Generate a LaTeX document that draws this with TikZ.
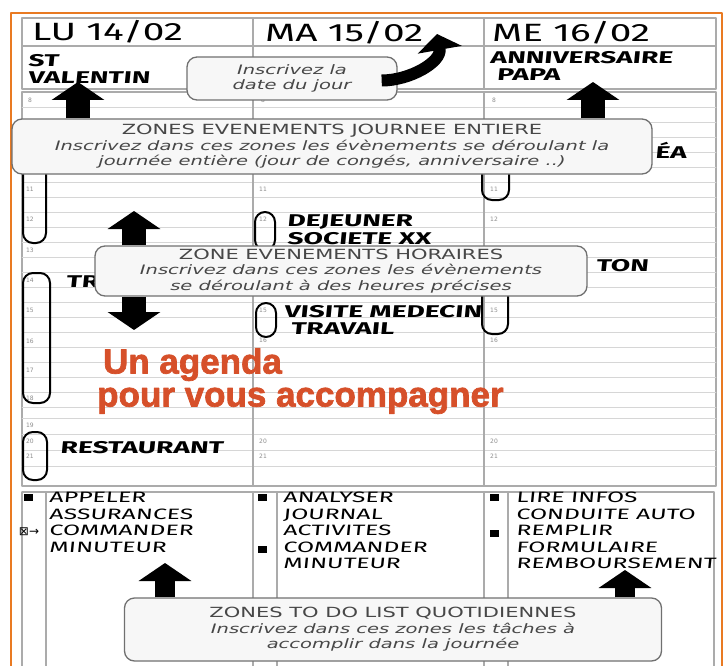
\documentclass[tikz,border=0pt]{standalone}
\usepackage{fontspec}
\setmainfont{DejaVu Sans}
\newfontfamily\calloutfont[FakeStretch=1.5]{DejaVu Sans}
\newfontfamily\handfont[FakeStretch=1.65,FakeSlant=0.1]{Fira Sans}
\newfontfamily\dayfont[FakeStretch=1.55]{Fira Sans}
\newfontfamily\titlefont[BoldFeatures={FakeBold=2}]{Liberation Sans}
\usetikzlibrary{arrows.meta}
\definecolor{agendaorange}{HTML}{E97A22}
\definecolor{pagegray}{HTML}{ABABAB}
\definecolor{linegray}{HTML}{D6D6D6}
\definecolor{calloutgray}{HTML}{707070}
\definecolor{calloutfill}{HTML}{F7F7F7}
\definecolor{titlered}{HTML}{D6502A}
\tikzset{
  every picture/.style={line join=round, line cap=round, >=Stealth},
  pageline/.style={pagegray, line width=1.3pt},
  gridline/.style={linegray, line width=0.8pt},
  callout/.style={draw=calloutgray, line width=1.3pt, rounded corners=10pt, fill=calloutfill, align=center,
    text=black!72, inner sep=0pt, font=\calloutfont\fontsize{13}{15.5}\selectfont},
  blockarrow/.style={line width=24pt, line cap=butt, -{Triangle[width=52pt,length=18pt]}},
  oval/.style={draw, line width=2pt, rounded corners=10pt},
  hand/.style={font=\handfont\bfseries\fontsize{17}{17.5}\selectfont, align=left, inner sep=0pt, anchor=west},
  daytitle/.style={font=\dayfont\fontsize{25}{25}\selectfont, inner sep=0pt, anchor=west},
  todo/.style={font=\handfont\fontsize{15}{16.5}\selectfont, align=left, inner sep=0pt, anchor=north west},
  hourlbl/.style={font=\fontsize{6}{6}\selectfont, text=black!45, inner sep=0pt},
  puce/.style={fill=black, minimum width=9pt, minimum height=7pt, inner sep=0pt},
}

\begin{document}
\begin{tikzpicture}[x=1pt,y=-1pt]
\useasboundingbox (0,0) rectangle (725,666);
% cadre
\draw[agendaorange, line width=2.4pt] (11,680)--(11,13)--(722,13)--(722,680);
% en-tete des jours
\draw[pageline] (22,18) rectangle (716,89) (22,46)--(716,46) (253,18)--(253,89) (484,18)--(484,89);
\node[daytitle] (lu) at (32,32) {LU 14/02};
\node[daytitle] (ma) at (265,33) {MA 15/02};
\node[daytitle] (me) at (492,33) {ME 16/02};
\node[hand] (valentin) at (28,69) {ST\\VALENTIN};
\node[hand] (papa) at (490,66) {ANNIVERSAIRE\\\ PAPA};
% grille horaire
\draw[pageline] (22,92) rectangle (716,486);
\foreach \y in {107,122,...,407} \draw[gridline] (22,\y)--(716,\y);
\foreach \y in {418,434,450,466} \draw[gridline] (22,\y)--(716,\y);
\draw[pageline] (253,92)--(253,486) (484,92)--(484,486);
\foreach \h/\y in {8/100,11/189,12/219,13/250,14/280,15/310,16/341,17/370,18/398,19/425,20/441,21/456}
  \node[hourlbl] (hLu\h) at (30,\y) {\h};
\foreach \h/\y in {8/100,11/189,12/219,15/310,16/340,20/441,21/456}
  \node[hourlbl] (hMa\h) at (263,\y) {\h};
\foreach \h/\y in {8/100,11/189,12/219,15/310,16/340,20/441,21/456}
  \node[hourlbl] (hMe\h) at (494,\y) {\h};
\draw[oval] (23,150) rectangle (46,243) (23,273) rectangle (50,403) (23,432) rectangle (47,480);
\draw[oval] (255,212) rectangle (275,250) (256,303) rectangle (276,337);
\draw[oval] (482,150) rectangle (509,200) (482,280) rectangle (508,334);
\node[hand] (dejeuner) at (287,230) {DEJEUNER\\SOCIETE XX};
\node[hand] (tr) at (66,282) {TR};
\node[hand] (ton) at (596,266) {TON};
\node[hand] (ea) at (655,150) {ÉA};
\node[hand] (visite) at (284,320) {VISITE MEDECIN\\\ TRAVAIL};
\node[hand] (resto) at (60,448) {RESTAURANT};
\node[font=\titlefont\bfseries\fontsize{35}{33}\selectfont, text=titlered, align=left, anchor=north west, inner sep=0pt]
  (slogan) at (97,348) {\,Un agenda\\pour vous accompagner};
% to do list
\draw[pageline] (22,492)--(22,680) (22,492)--(714,492)--(714,680);
\draw[pageline] (46,492)--(46,680) (253,492)--(253,680) (277,492)--(277,680) (484,492)--(484,680) (508,492)--(508,680);
\node[puce] (pA1) at (28,497) {};
\node[font=\fontsize{12}{12}\selectfont, inner sep=0pt] (pA2) at (29,532) {⊠→};
\node[puce] (pB1) at (262,497) {};
\node[puce] (pB2) at (262,549) {};
\node[puce] (pC1) at (494,497) {};
\node[puce] (pC2) at (494,533) {};
\node[todo] (todoLu) at (49,492) {APPELER\\ASSURANCES\\COMMANDER\\MINUTEUR};
\node[todo] (todoMa) at (283,492) {ANALYSER\\JOURNAL\\ACTIVITES\\COMMANDER\\MINUTEUR};
\node[todo] (todoMe) at (516,492) {LIRE INFOS\\CONDUITE AUTO\\REMPLIR\\FORMULAIRE\\REMBOURSEMENT};
% bulles explicatives
\node[callout, minimum width=210pt, minimum height=43pt] (date) at (292,78.5)
  {\itshape Inscrivez la\\\itshape date du jour};
\node[callout, minimum width=640pt, minimum height=55pt] (journee) at (332,146.5)
  {\fontsize{14}{15.5}\selectfont ZONES EVENEMENTS JOURNEE ENTIERE\\\itshape Inscrivez dans ces zones les évènements se déroulant la\\\itshape journée entière (jour de  congés, anniversaire ..)};
\node[callout, minimum width=492pt, minimum height=50pt] (horaires) at (341,271)
  {\fontsize{14}{15.5}\selectfont ZONE EVENEMENTS HORAIRES\\\itshape Inscrivez dans ces zones les évènements\\\itshape se déroulant à des heures précises};
\node[callout, minimum width=537pt, minimum height=63pt] (quotidien) at (393,629.5)
  {\fontsize{14}{15.5}\selectfont ZONES TO DO LIST QUOTIDIENNES\\\itshape Inscrivez dans ces zones les tâches à\\\itshape accomplir dans la journée};
% fleches
\coordinate (tipDate) at (437,34);
\coordinate (tipJ1) at (78,82);
\coordinate (tipJ2) at (593,82);
\coordinate (tipH1) at (134,211);
\coordinate (tipH2) at (134,330);
\coordinate (tipT1) at (165,563);
\coordinate (tipT2) at (625,570);
\draw[blockarrow, line width=12pt, -{Triangle[width=44pt,length=16pt]}] ([xshift=-16pt,yshift=-2pt]date.east) to[out=0,in=-80] (tipDate);
\draw[blockarrow] (journee.north -| tipJ1) -- (tipJ1);
\draw[blockarrow] (journee.north -| tipJ2) -- (tipJ2);
\draw[blockarrow] (horaires.north -| tipH1) -- (tipH1);
\draw[blockarrow] (horaires.south -| tipH2) -- (tipH2);
\draw[blockarrow, line width=20pt] (quotidien.north -| tipT1) -- (tipT1);
\draw[blockarrow, line width=20pt] (quotidien.north -| tipT2) -- (tipT2);
\end{tikzpicture}
\end{document}
